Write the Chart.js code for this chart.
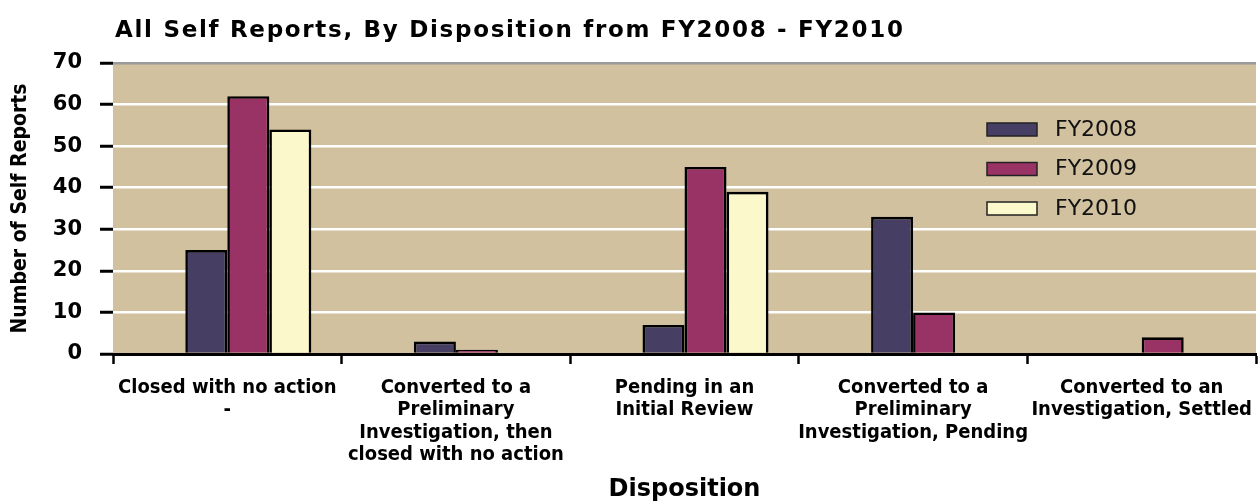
<!DOCTYPE html>
<html>
<head>
<meta charset="utf-8">
<script src="https://cdn.jsdelivr.net/npm/chart.js@4.4.1/dist/chart.umd.min.js"></script>
<style>
  html, body { margin: 0; padding: 0; background: #fff; }
  #wrap { width: 1259px; height: 501px; }
</style>
</head>
<body>
<div id="wrap"><canvas id="chart"></canvas></div>
<script>
const chartTitle = "All Self Reports, By Disposition from FY2008 - FY2010";
const categories = [
  ["Closed with no action", "-"],
  ["Converted to a", "Preliminary", "Investigation, then", "closed with no action"],
  ["Pending in an", "Initial Review"],
  ["Converted to a", "Preliminary", "Investigation, Pending"],
  ["Converted to an", "Investigation, Settled"],
];
const seriesNames = ["FY2008", "FY2009", "FY2010"];
const fy2008 = [25, 3, 7, 33, 0];
const fy2009 = [62, 1, 45, 10, 4];
const fy2010 = [54, 0, 39, 0, 0];
const yTicks = [0, 10, 20, 30, 40, 50, 60, 70];
const colors = ["#463e63", "#993366", "#fbf8cc"];

const narrow = "'Liberation Sans Narrow', 'DejaVu Sans Condensed', sans-serif";
const wide = "'DejaVu Sans', Verdana, sans-serif";

// plot background + hand drawn title / legend (original sits inside the plot)
const decorations = {
  id: "decorations",
  beforeDraw: (chart) => {
    const { ctx, chartArea: a } = chart;
    ctx.save();
    ctx.fillStyle = "#d1c19f";
    ctx.fillRect(a.left, a.top, a.right - a.left, a.bottom - a.top);
    ctx.restore();
  },
  afterDraw: (chart) => {
    const { ctx, chartArea: a } = chart;
    ctx.save();
    ctx.fillStyle = "#000";
    ctx.font = "bold 23px " + wide;
    ctx.letterSpacing = "1.7px";
    ctx.textBaseline = "middle";
    ctx.fillText(chartTitle, a.left + 2, 31);
    ctx.letterSpacing = "0px";

    ctx.font = "500 22px " + wide;
    seriesNames.forEach((name, i) => {
      const x = a.right - 269;
      const y = a.top + 60 + i * 39.5;
      ctx.fillStyle = colors[i];
      ctx.fillRect(x, y, 50, 13);
      ctx.strokeStyle = "#222";
      ctx.lineWidth = 1.5;
      ctx.strokeRect(x, y, 50, 13);
      ctx.fillStyle = "#111";
      ctx.fillText(name, x + 68, y + 7);
    });
    ctx.restore();
  },
};

const bar = (label, data, color) => ({
  label,
  data,
  backgroundColor: color,
  borderColor: "#000",
  borderWidth: 2.6,
});

new Chart(document.getElementById("chart"), {
  type: "bar",
  data: {
    labels: categories,
    datasets: [
      // empty first slot: the original groups sit a half bar right of centre
      { label: "", data: categories.map(() => null) },
      bar(seriesNames[0], fy2008, colors[0]),
      bar(seriesNames[1], fy2009, colors[1]),
      bar(seriesNames[2], fy2010, colors[2]),
    ],
  },
  options: {
    responsive: true,
    maintainAspectRatio: false,
    animation: false,
    categoryPercentage: 0.735,
    barPercentage: 1,
    layout: { padding: { top: 63, right: 3, left: 0, bottom: 0 } },
    plugins: {
      legend: { display: false },
      title: { display: false },
      tooltip: { enabled: false },
    },
    scales: {
      x: {
        grid: {
          drawOnChartArea: false,
          tickLength: 10,
          tickColor: "#000",
          tickWidth: 2.5,
        },
        border: { color: "#000", width: 3 },
        ticks: {
          color: "#000",
          maxRotation: 0,
          autoSkip: false,
          padding: 12,
          font: { family: narrow, size: 20, weight: "bold", lineHeight: 1.13 },
        },
        title: {
          display: true,
          text: "Disposition",
          color: "#000",
          padding: { top: 0, bottom: -3 },
          font: { family: wide, size: 24, weight: "bold" },
        },
        afterFit: (s) => {
          s.height = 147;
          // last label may hang past the plot, like in the original
          s.paddingLeft = 0;
          s.paddingRight = 0;
        },
      },
      y: {
        min: 0,
        max: 70,
        afterBuildTicks: (s) => { s.ticks = yTicks.map((v) => ({ value: v })); },
        grid: {
          color: (c) => (c.tick && c.tick.value === 70 ? "#9a9a9a" : "#fff"),
          lineWidth: 2.5,
          tickLength: 13,
          tickColor: "#000",
          tickWidth: 3,
        },
        border: { display: false },
        ticks: {
          color: "#000",
          padding: 18,
          font: { family: wide, size: 21, weight: "bold" },
        },
        title: {
          display: true,
          text: "Number of Self Reports",
          color: "#000",
          padding: { top: 8, bottom: 0 },
          font: { family: narrow, size: 21, weight: "bold" },
        },
        afterFit: (s) => { s.width = 113; },
      },
    },
  },
  plugins: [decorations],
});
</script>
</body>
</html>
